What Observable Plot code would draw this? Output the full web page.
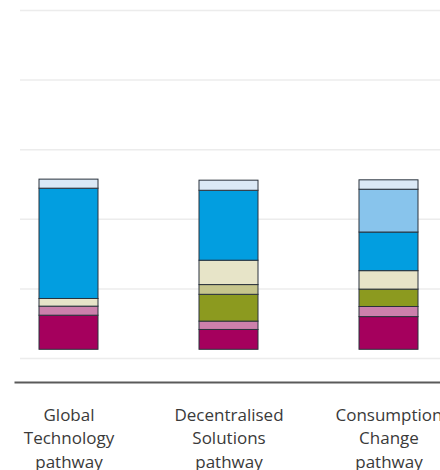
<!DOCTYPE html>
<html>
<head>
<meta charset="utf-8">
<script src="https://cdn.jsdelivr.net/npm/d3@7"></script>
<script src="https://cdn.jsdelivr.net/npm/@observablehq/plot@0.6"></script>
<style>
  html, body { margin: 0; padding: 0; background: #ffffff; overflow: hidden; }
  #chart svg { display: block; overflow: visible; }
</style>
</head>
<body>
<div id="chart"></div>
<script>
// Pathways shown along the x axis
const pathways = ["Global Technology pathway", "Decentralised Solutions pathway", "Consumption Change pathway"];
const pathwayLabels = ["Global\nTechnology\npathway", "Decentralised\nSolutions\npathway", "Consumption\nChange\npathway"];

// Stacked components, bottom to top
const components = ["c1", "c2", "c3", "c4", "c5", "c6", "c7", "c8"];
const componentColors = ["#a5005d", "#cc80ac", "#8c9a1f", "#c6c58c", "#e7e4c8", "#029ee0", "#88c4ec", "#dbe9f6"];

// Component values per pathway (same order as components)
const globalTechnology = [9.8, 2.6, 0, 0, 2.2, 31.7, 0, 2.6];
const decentralisedSolutions = [5.7, 2.4, 7.7, 2.8, 7.0, 20.1, 0, 2.9];
const consumptionChange = [9.4, 2.9, 5.0, 0, 5.3, 11.1, 12.3, 2.7];

// Value where the stacks begin
const stackBase = 2.5;

// Horizontal gridline values
const gridTicks = [0, 20, 40, 60, 80, 100];

// Build stacked segments
const seriesValues = [globalTechnology, decentralisedSolutions, consumptionChange];
const segments = [];
pathways.forEach((p, i) => {
  let acc = stackBase;
  seriesValues[i].forEach((v, j) => {
    if (v > 0) {
      segments.push({pathway: p, component: components[j], y1: acc, y2: acc + v});
    }
    acc += v;
  });
});

const labelOf = new Map(pathways.map((p, i) => [p, pathwayLabels[i]]));

const chart = Plot.plot({
  width: 440,
  height: 470,
  marginLeft: 15,
  marginRight: 0,
  marginTop: 10,
  marginBottom: 88,
  style: {background: "#ffffff", fontFamily: "'Open Sans', sans-serif", color: "#3a3a3a"},
  x: {domain: pathways, range: [39.2, 417.8], paddingInner: 0.634, paddingOuter: 0},
  y: {domain: [0, 100], range: [358, 10]},
  color: {domain: components, range: componentColors},
  marks: [
    Plot.ruleY(gridTicks, {stroke: "#ececec", strokeWidth: 1.5, insetLeft: 5}),
    Plot.rectY(segments, {
      x: "pathway",
      y1: "y1",
      y2: "y2",
      fill: "component",
      stroke: "#2a323c",
      strokeWidth: 1
    }),
    Plot.frame({anchor: "bottom", stroke: "#5a5a5a", strokeWidth: 2}),
    Plot.axisX({
      anchor: "bottom",
      tickSize: 0,
      tickPadding: 21,
      fontSize: 17,
      lineHeight: 1.41,
      tickFormat: (d) => labelOf.get(d),
      fill: "#3a3a3a",
      label: null
    }),
    Plot.axisY({ticks: [], label: null})
  ]
});

document.getElementById("chart").appendChild(chart);
</script>
</body>
</html>
